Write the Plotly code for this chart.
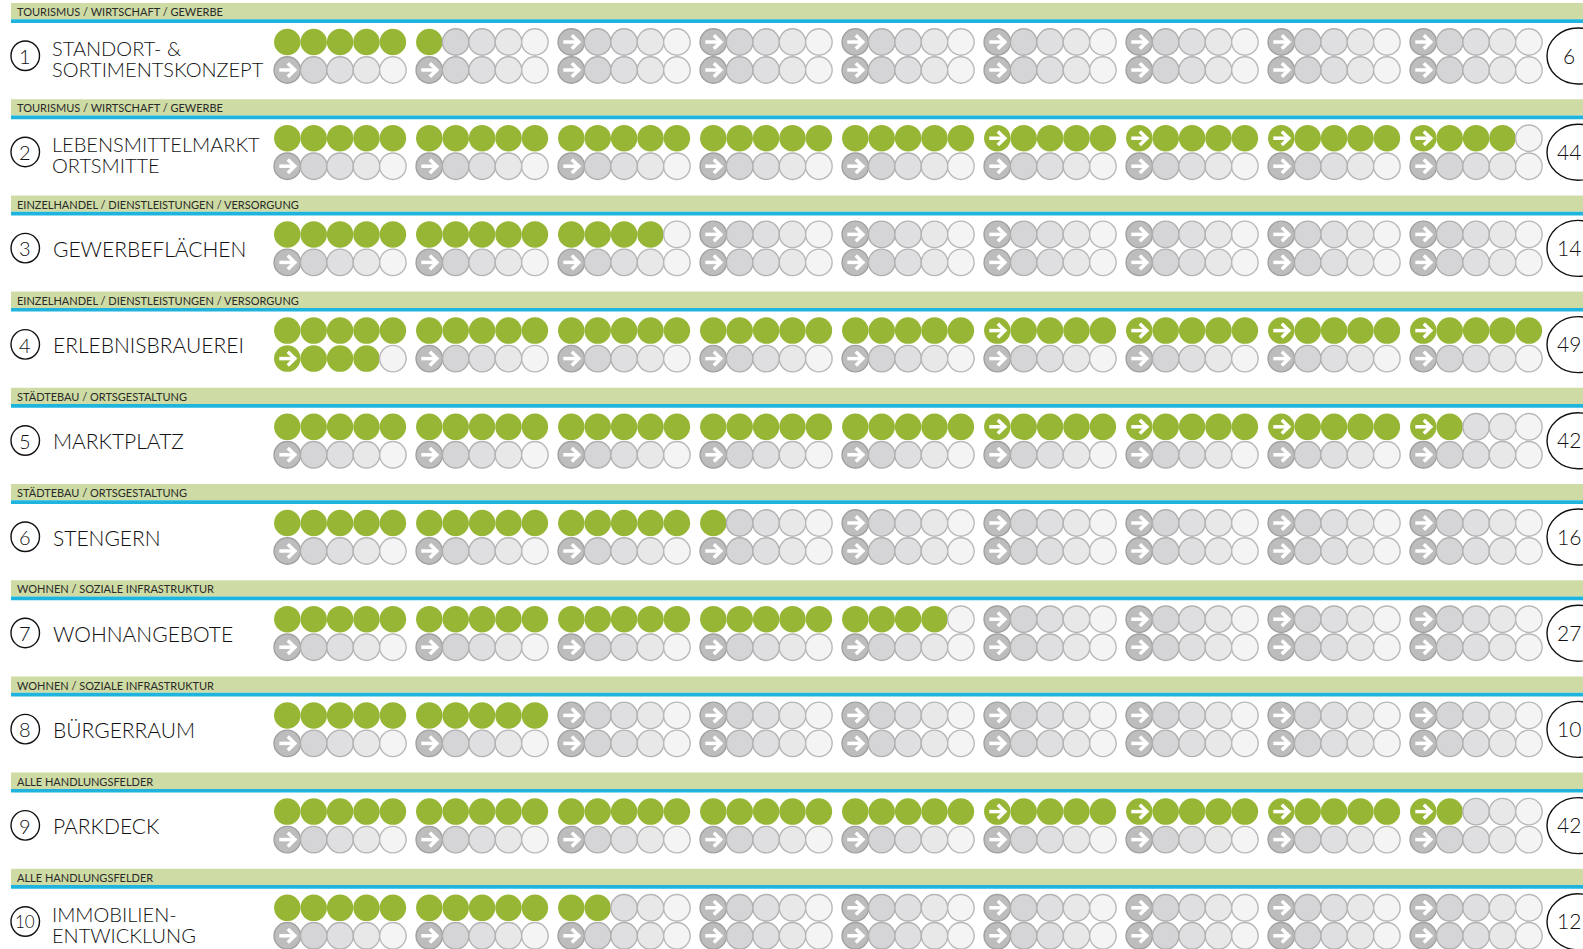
import plotly.graph_objects as go

# ---------------- data ----------------
categories = [
    "TOURISMUS / WIRTSCHAFT / GEWERBE",
    "TOURISMUS / WIRTSCHAFT / GEWERBE",
    "EINZELHANDEL / DIENSTLEISTUNGEN / VERSORGUNG",
    "EINZELHANDEL / DIENSTLEISTUNGEN / VERSORGUNG",
    "STÄDTEBAU / ORTSGESTALTUNG",
    "STÄDTEBAU / ORTSGESTALTUNG",
    "WOHNEN / SOZIALE INFRASTRUKTUR",
    "WOHNEN / SOZIALE INFRASTRUKTUR",
    "ALLE HANDLUNGSFELDER",
    "ALLE HANDLUNGSFELDER",
]
titles = [
    ["STANDORT- &", "SORTIMENTSKONZEPT"],
    ["LEBENSMITTELMARKT", "ORTSMITTE"],
    ["GEWERBEFLÄCHEN"],
    ["ERLEBNISBRAUEREI"],
    ["MARKTPLATZ"],
    ["STENGERN"],
    ["WOHNANGEBOTE"],
    ["BÜRGERRAUM"],
    ["PARKDECK"],
    ["IMMOBILIEN-", "ENTWICKLUNG"],
]
numbers = ["1", "2", "3", "4", "5", "6", "7", "8", "9", "10"]
filled = [6, 44, 14, 49, 42, 16, 24, 10, 42, 12]      # green dots drawn
totals = [6, 44, 14, 49, 42, 16, 27, 10, 42, 12]      # number shown at right

# ---------------- style / geometry ----------------
W, H = 1583, 949
FONT = "Lato"
GREEN = "#97b635"
BAND = "#cedba4"
BLUE = "#1eb4de"
EMPTY_FILL = ["#bdbdbd", "#d5d5d7", "#dfdfe1", "#e8e8e9", "#f4f4f4"]
EMPTY_LINE = ["#a0a0a0", "#afafaf", "#b2b2b2", "#b5b5b5", "#b9b9b9"]

N_GROUPS, PER_GROUP = 9, 5
ROW0, ROW_PITCH = 3.0, 96.2
G0, G_PITCH, C_PITCH = 287.3, 142.0, 26.4
DOT = 26.5

fig = go.Figure()
shapes, annots = [], []

xs, ys, fills, lines, lws = [], [], [], [], []
ax, ay = [], []

for r in range(len(categories)):
    bt = ROW0 + r * ROW_PITCH
    # category band + blue rule
    shapes.append(dict(type="rect", xref="x", yref="y", x0=11, x1=W + 5, y0=bt, y1=bt + 16.3,
                       fillcolor=BAND, line=dict(width=0), layer="below"))
    shapes.append(dict(type="rect", xref="x", yref="y", x0=11, x1=W + 5, y0=bt + 16.3, y1=bt + 20,
                       fillcolor=BLUE, line=dict(width=0), layer="below"))
    annots.append(dict(x=15, y=bt + 8.6, text=categories[r], xanchor="left", yanchor="middle",
                       showarrow=False, font=dict(family=FONT, size=11, color="#2a2a2a")))
    # number circle
    shapes.append(dict(type="circle", xref="x", yref="y", x0=11, x1=39.5, y0=bt + 38, y1=bt + 67.5,
                       line=dict(color="#111", width=1.4)))
    annots.append(dict(x=25.3, y=bt + 53, text=numbers[r], showarrow=False, xanchor="center",
                       yanchor="middle",
                       font=dict(family=FONT, size=20 if len(numbers[r]) == 1 else 17,
                                 color="#111", weight=300)))
    # title
    tl = titles[r]
    if len(tl) == 1:
        annots.append(dict(x=51, y=bt + 53, text=tl[0], xanchor="left", yanchor="middle",
                           showarrow=False, font=dict(family=FONT, size=21, color="#111", weight=300)))
    else:
        for k, t in enumerate(tl):
            annots.append(dict(x=49.5, y=bt + 45 + 21 * k, text=t, xanchor="left", yanchor="middle",
                               showarrow=False, font=dict(family=FONT, size=20, color="#111", weight=300)))
    # total ellipse
    shapes.append(dict(type="circle", xref="x", yref="y", x0=1547, x1=1609, y0=bt + 25, y1=bt + 81,
                       line=dict(color="#111", width=1.4)))
    annots.append(dict(x=1569, y=bt + 52, text=str(totals[r]), showarrow=False, xanchor="center",
                       yanchor="middle", font=dict(family=FONT, size=21, color="#111", weight=300)))

    # dots
    for row_k in range(2):
        cy = bt + 39 + 28 * row_k
        for g in range(N_GROUPS):
            start = row_k * N_GROUPS * PER_GROUP + g * PER_GROUP
            group_empty = filled[r] <= start
            for p in range(PER_GROUP):
                idx = start + p
                cx = G0 + g * G_PITCH + p * C_PITCH
                is_green = idx < filled[r]
                arrow = p == 0 and (row_k == 1 or g >= 5 or group_empty)
                xs.append(cx)
                ys.append(cy)
                if is_green:
                    fills.append(GREEN); lines.append(GREEN); lws.append(0)
                else:
                    fills.append(EMPTY_FILL[p]); lines.append(EMPTY_LINE[p]); lws.append(1.4)
                if arrow:
                    ax.extend([cx - 8, cx + 7, None, cx + 0.5, cx + 7.5, cx + 0.5, None])
                    ay.extend([cy, cy, None, cy - 6.8, cy, cy + 6.8, None])

fig.add_trace(go.Scatter(x=xs, y=ys, mode="markers", hoverinfo="skip",
                         marker=dict(size=DOT, color=fills, line=dict(color=lines, width=lws))))
fig.add_trace(go.Scatter(x=ax, y=ay, mode="lines", hoverinfo="skip",
                         line=dict(color="white", width=3.5)))

fig.update_layout(
    width=W, height=H, margin=dict(l=0, r=0, t=0, b=0),
    paper_bgcolor="white", plot_bgcolor="white", showlegend=False,
    xaxis=dict(range=[0, W], visible=False, fixedrange=True),
    yaxis=dict(range=[H, 0], visible=False, fixedrange=True),
    shapes=shapes, annotations=annots,
)
fig.write_html("out.html", config={"displayModeBar": False},
               post_script="document.body.style.margin='0';document.body.style.overflow='hidden';")
